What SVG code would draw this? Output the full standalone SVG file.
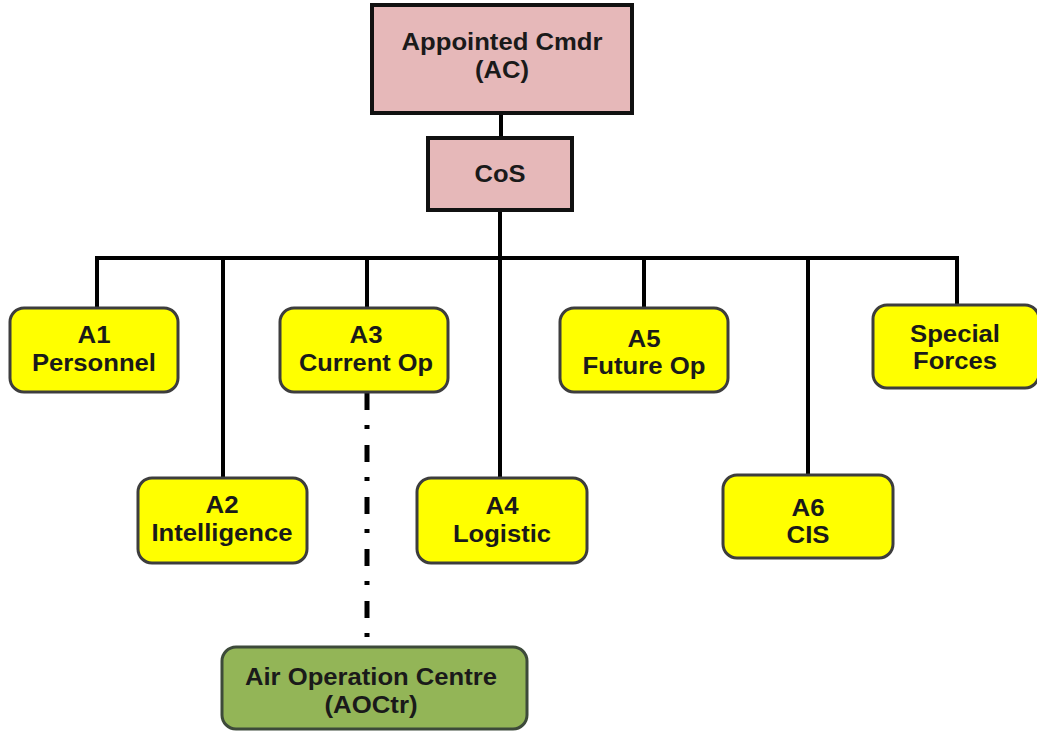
<svg xmlns="http://www.w3.org/2000/svg" width="1037" height="731" viewBox="0 0 1037 731">
  <style>
    .cmd { fill: #e6b8b9; stroke: #111; stroke-width: 4; }
    .staff { fill: #ffff00; stroke: #3d3d3d; stroke-width: 3; }
    .aoc { fill: #93b557; stroke: #3d4a3a; stroke-width: 3; }
    .lbl { font-family: "Liberation Sans", Arial, sans-serif; font-weight: bold; font-size: 23px; fill: #1a1a1a; text-anchor: middle; }
    .link { stroke: #000; stroke-width: 4; fill: none; }
    .dashdot { stroke: #000; stroke-width: 5; fill: none; stroke-dasharray: 17 15 4 16; }
  </style>
  <rect width="1037" height="731" fill="#fff"/>

  <g id="connectors">
    <line class="link" x1="501" y1="113" x2="501" y2="138"/>
    <line class="link" x1="500" y1="210" x2="500" y2="478"/>
    <line class="link" x1="95" y1="258" x2="959" y2="258"/>
    <line class="link" x1="97" y1="258" x2="97" y2="308"/>
    <line class="link" x1="223" y1="258" x2="223" y2="478"/>
    <line class="link" x1="367" y1="258" x2="367" y2="308"/>
    <line class="link" x1="644" y1="258" x2="644" y2="308"/>
    <line class="link" x1="808" y1="258" x2="808" y2="475"/>
    <line class="link" x1="957" y1="258" x2="957" y2="305"/>
    <line class="dashdot" x1="367" y1="393" x2="367" y2="645"/>
  </g>

  <g id="node-ac">
    <rect class="cmd" x="372" y="5" width="260" height="108"/>
    <text class="lbl" x="502" y="50" textLength="201" lengthAdjust="spacingAndGlyphs">Appointed Cmdr</text>
    <text class="lbl" x="502" y="78" textLength="54" lengthAdjust="spacingAndGlyphs">(AC)</text>
  </g>

  <g id="node-cos">
    <rect class="cmd" x="428" y="138" width="144" height="72"/>
    <text class="lbl" x="500" y="182" textLength="51" lengthAdjust="spacingAndGlyphs">CoS</text>
  </g>

  <g id="node-a1">
    <rect class="staff" x="10" y="308" width="168" height="84" rx="14"/>
    <text class="lbl" x="94" y="343" textLength="33" lengthAdjust="spacingAndGlyphs">A1</text>
    <text class="lbl" x="94" y="371" textLength="124" lengthAdjust="spacingAndGlyphs">Personnel</text>
  </g>

  <g id="node-a2">
    <rect class="staff" x="138" y="478" width="169" height="85" rx="14"/>
    <text class="lbl" x="222" y="513" textLength="33" lengthAdjust="spacingAndGlyphs">A2</text>
    <text class="lbl" x="222" y="541" textLength="141" lengthAdjust="spacingAndGlyphs">Intelligence</text>
  </g>

  <g id="node-a3">
    <rect class="staff" x="280" y="308" width="168" height="84" rx="14"/>
    <text class="lbl" x="366" y="343" textLength="33" lengthAdjust="spacingAndGlyphs">A3</text>
    <text class="lbl" x="366" y="371" textLength="134" lengthAdjust="spacingAndGlyphs">Current Op</text>
  </g>

  <g id="node-a4">
    <rect class="staff" x="417" y="478" width="170" height="85" rx="14"/>
    <text class="lbl" x="502" y="514" textLength="33" lengthAdjust="spacingAndGlyphs">A4</text>
    <text class="lbl" x="502" y="542" textLength="98" lengthAdjust="spacingAndGlyphs">Logistic</text>
  </g>

  <g id="node-a5">
    <rect class="staff" x="560" y="308" width="168" height="84" rx="14"/>
    <text class="lbl" x="644" y="347" textLength="33" lengthAdjust="spacingAndGlyphs">A5</text>
    <text class="lbl" x="644" y="374" textLength="123" lengthAdjust="spacingAndGlyphs">Future Op</text>
  </g>

  <g id="node-a6">
    <rect class="staff" x="723" y="475" width="170" height="83" rx="14"/>
    <text class="lbl" x="808" y="516" textLength="33" lengthAdjust="spacingAndGlyphs">A6</text>
    <text class="lbl" x="808" y="543" textLength="43" lengthAdjust="spacingAndGlyphs">CIS</text>
  </g>

  <g id="node-sf">
    <rect class="staff" x="873" y="305" width="166" height="83" rx="14"/>
    <text class="lbl" x="955" y="342" textLength="90" lengthAdjust="spacingAndGlyphs">Special</text>
    <text class="lbl" x="955" y="369" textLength="84" lengthAdjust="spacingAndGlyphs">Forces</text>
  </g>

  <g id="node-aoc">
    <rect class="aoc" x="222" y="647" width="305" height="82" rx="14"/>
    <text class="lbl" x="371" y="685" textLength="252" lengthAdjust="spacingAndGlyphs">Air Operation Centre</text>
    <text class="lbl" x="371" y="713" textLength="93" lengthAdjust="spacingAndGlyphs">(AOCtr)</text>
  </g>
</svg>
